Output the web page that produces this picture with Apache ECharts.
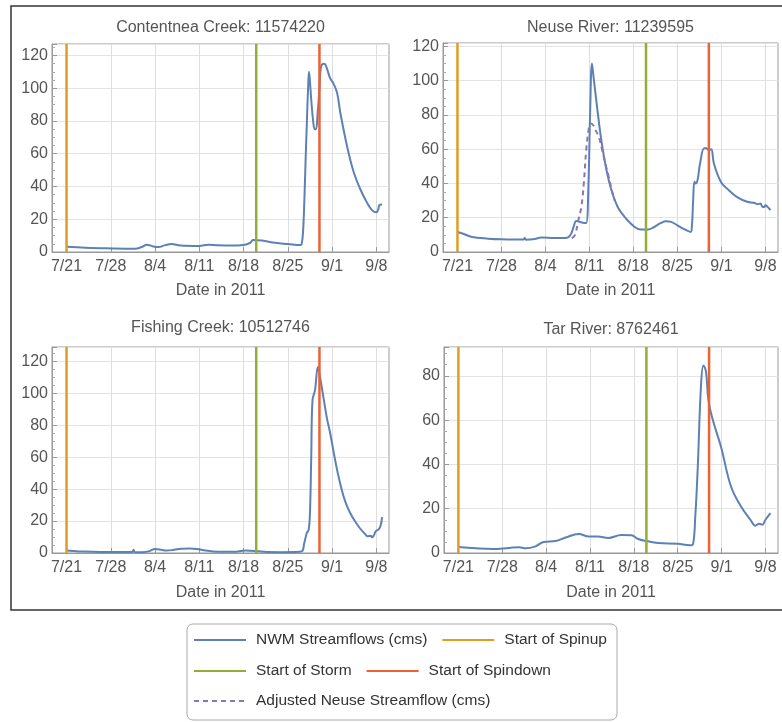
<!DOCTYPE html>
<html><head><meta charset="utf-8">
<script src="https://cdn.jsdelivr.net/npm/echarts@6/dist/echarts.min.js"></script>
<style>html,body{margin:0;padding:0;background:#fff}#c{width:782px;height:722px}</style>
</head><body><div id="c"></div><script>
// x values are days since 7/21/2011
const tickDays = [0, 7, 14, 21, 28, 35, 42, 49];
const eventDays = { spinup: 0, storm: 30, spindown: 40 };

const panelTitles = ['Contentnea Creek: 11574220', 'Neuse River: 11239595', 'Fishing Creek: 10512746', 'Tar River: 8762461'];

const contentneaDays = [0, 3, 7, 10.8, 12, 12.7, 13.6, 14.5, 15.6, 16.6, 18, 21, 22.4, 24, 26, 28, 29, 29.5, 30.9, 33, 35, 37, 37.2, 37.4, 37.6, 37.8, 38.0, 38.2, 38.35, 38.5, 38.7, 39.0, 39.25, 39.45, 39.7, 40.0, 40.25, 40.7, 41.0, 41.7, 42.2, 42.8, 43.3, 44.4, 45.4, 46.5, 47.5, 48.3, 49.0, 49.3, 49.5, 49.9];
const contentnea = [3.2, 2.6, 2.2, 2.0, 3.2, 4.5, 3.5, 3.0, 4.2, 4.9, 4.0, 3.7, 4.5, 4.1, 3.9, 4.3, 5.5, 7.3, 7.0, 5.6, 4.9, 4.3, 5, 12, 30, 55, 78, 100, 110, 104, 93, 80, 75, 75, 84, 100, 113, 115, 114, 106, 103, 97, 85, 64, 49, 38, 30.3, 25.6, 24.2, 26, 28.7, 29];

const neuseDays = [0, 1, 2.3, 4.9, 7, 9, 10.5, 10.7, 10.9, 12, 13.4, 15.5, 17.1, 17.6, 18.1, 18.5, 18.9, 19.4, 20.2, 20.5, 20.86, 21.1, 21.4, 21.6, 22.2, 22.9, 23.7, 24.5, 25.5, 26.6, 28.2, 29.2, 30.3, 31.3, 32.3, 33.2, 34, 35, 36, 37.1, 37.3, 37.5, 37.7, 37.9, 38.2, 38.6, 39.25, 39.6, 39.8, 40.1, 40.4, 40.8, 41.9, 42.9, 44.5, 46.1, 47.2, 47.7, 48.2, 48.5, 48.8, 49, 49.3, 49.8];
const neuse = [11.7, 10.5, 8.8, 7.8, 7.4, 7.3, 7.3, 8.2, 7.2, 7.4, 8.4, 8.2, 8.2, 8.5, 10.7, 15, 18.1, 17.6, 17.0, 17, 42, 80, 110, 104, 85, 65, 48, 36, 26.3, 20.5, 14.6, 13.1, 13.1, 14.6, 16.8, 18, 17.6, 15.6, 13.5, 11.7, 15, 30, 41, 40, 42, 51.7, 60.5, 60.5, 60, 59.5, 60, 51.7, 41, 37, 32, 29.3, 28.7, 27.9, 28.3, 26.5, 26.3, 27.3, 26.5, 24.4];

const adjustedNeuseDays = [18.2, 18.7, 19.2, 19.7, 20.1, 20.5, 20.9, 21.2, 21.6, 22.0, 22.5, 23.0, 23.5, 24.0, 24.5, 25.0];
const adjustedNeuse = [8, 10, 18, 26, 40, 60, 72, 75, 74, 71, 67, 60, 52, 45, 37, 30];

const fishingDays = [0, 2, 5.3, 8, 10.4, 10.6, 10.8, 12, 13, 14, 15, 15.8, 17, 18.2, 19.5, 20.6, 22, 23.2, 25, 26.4, 28.3, 30, 31.7, 34, 36, 37.2, 37.6, 38.0, 38.3, 38.5, 38.7, 38.9, 39.3, 39.75, 40.1, 40.7, 41.2, 41.7, 42.3, 42.9, 43.5, 44.1, 44.8, 45.6, 46.4, 47.2, 47.6, 48.1, 48.3, 48.6, 48.9, 49.4, 49.7, 49.9];
const fishing = [1.5, 1.0, 0.6, 0.6, 0.6, 2, 0.6, 0.5, 1.0, 2.5, 2.0, 1.5, 2.0, 2.7, 2.8, 2.5, 1.5, 1.0, 0.8, 0.8, 1.5, 1.2, 0.6, 0.5, 0.6, 1.0, 6.2, 12.5, 14.6, 25, 60, 95.7, 102, 116.5, 110, 95.7, 84, 75, 62, 50, 40, 32, 25.5, 20, 15.5, 12, 10.5, 10.8, 9.8, 11, 13.5, 15, 17.5, 22.5];

const tarDays = [0, 2.8, 5.4, 8.1, 9.7, 10.7, 12.3, 13.6, 15.5, 17.1, 19.2, 20.8, 22.3, 23.9, 26, 27.6, 28.7, 30, 31.9, 35, 36.9, 37.4, 37.8, 38.2, 38.7, 39.1, 39.5, 39.9, 40.6, 41.9, 43.5, 45.1, 46.6, 47.4, 48, 48.5, 49, 49.8];
const tar = [2.7, 2.1, 1.8, 2.3, 2.6, 2.1, 3, 5, 5.4, 7, 8.6, 7.4, 7.5, 6.8, 8.1, 8, 6.3, 5.4, 4.5, 4.2, 3.5, 3.8, 16.5, 39, 75, 84.7, 82, 69, 60, 48, 30, 21, 15, 12.3, 13.2, 12.8, 15, 18];

const yMaxes = [127, 122, 129, 93];

const FONT = '"Liberation Sans", Arial, sans-serif';
const C = { blue: '#5E81B5', orange: '#E19C24', green: '#8FB032', red: '#EB6235', purple: '#8778B3' };
const zip = (xs, ys) => xs.map((x, i) => [x, ys[i]]);
const fmtDay = v => { const d = new Date(2011, 6, 21 + Math.round(v)); return (d.getMonth() + 1) + '/' + d.getDate(); };

const grids = [
  { left: 52, top: 44, width: 337, height: 208 },
  { left: 443, top: 43, width: 335, height: 209 },
  { left: 52, top: 347, width: 337, height: 206 },
  { left: 444, top: 347, width: 334, height: 206 }
];
const nameGaps = [31, 31, 32, 32];
const panelData = [zip(contentneaDays, contentnea), zip(neuseDays, neuse), zip(fishingDays, fishing), zip(tarDays, tar)];

const xAxes = grids.map((g, i) => ({
  type: 'value', gridIndex: i, min: -2.3, max: 51,
  axisLine: { show: true, onZero: false, lineStyle: { color: '#999' } },
  axisTick: { show: true, inside: true, length: 5, customValues: tickDays, lineStyle: { color: '#999' } },
  axisLabel: { customValues: tickDays, formatter: fmtDay, color: '#555', fontSize: 16, fontFamily: FONT, margin: 7 },
  splitLine: { show: true, lineStyle: { color: '#dedede' } },
  name: 'Date in 2011', nameLocation: 'middle', nameGap: nameGaps[i],
  nameTextStyle: { color: '#555', fontSize: 16, fontFamily: FONT }
}));
const yAxes = grids.map((g, i) => ({
  type: 'value', gridIndex: i, min: 0, max: yMaxes[i], interval: 20,
  axisLine: { show: true, onZero: false, lineStyle: { color: '#999' } },
  axisTick: { show: true, inside: true, length: 5, lineStyle: { color: '#999' } },
  minorTick: { show: true, splitNumber: 4, length: 3, lineStyle: { color: '#aaa' } },
  axisLabel: { showMaxLabel: false, color: '#555', fontSize: 16, fontFamily: FONT, margin: 4 },
  splitLine: { show: true, lineStyle: { color: '#e4e4e4' } }
}));

const series = [];
panelData.forEach((d, i) => {
  series.push({
    type: 'line', name: 'NWM Streamflows (cms)', xAxisIndex: i, yAxisIndex: i, data: d,
    symbol: 'none', smooth: 0.4, lineStyle: { color: C.blue, width: 2 }, itemStyle: { color: C.blue }, z: 2
  });
  if (i === 1) {
    series.push({
      type: 'line', name: 'Adjusted Neuse Streamflow (cms)', xAxisIndex: i, yAxisIndex: i, data: zip(adjustedNeuseDays, adjustedNeuse),
      symbol: 'none', smooth: 0.4, lineStyle: { color: C.purple, width: 2, type: [5, 4] }, itemStyle: { color: C.purple }, z: 3
    });
  }
  [['Start of Spinup', eventDays.spinup, C.orange], ['Start of Storm', eventDays.storm, C.green], ['Start of Spindown', eventDays.spindown, C.red]].forEach(([nm, day, col]) => {
    series.push({
      type: 'line', name: nm, xAxisIndex: i, yAxisIndex: i, data: [[day, 0], [day, yMaxes[i]]],
      symbol: 'none', lineStyle: { color: col, width: 2.5 }, itemStyle: { color: col }, z: 4
    });
  });
});

const legendBase = {
  orient: 'horizontal', padding: 0, itemWidth: 52, itemHeight: 14, itemGap: 14,
  itemStyle: { opacity: 0, borderWidth: 0 },
  textStyle: { fontSize: 15.5, color: '#333', fontFamily: FONT, padding: [0, 0, 0, 5] },
  selectedMode: false
};
const legends = [
  Object.assign({}, legendBase, { left: 193, top: 632, data: ['NWM Streamflows (cms)', 'Start of Spinup'] }),
  Object.assign({}, legendBase, { left: 193, top: 663, data: ['Start of Storm', 'Start of Spindown'] }),
  Object.assign({}, legendBase, { left: 193, top: 693, data: ['Adjusted Neuse Streamflow (cms)'] })
];

const titleCenters = [[220.5, 28], [610.5, 28], [220.5, 328], [611, 330]];
const graphics = [
  { type: 'rect', shape: { x: 11, y: 6, width: 780, height: 604 }, style: { fill: 'none', stroke: '#333', lineWidth: 1.5 }, silent: true },
  { type: 'rect', shape: { x: 187, y: 624, width: 430, height: 96, r: 6 }, style: { fill: 'none', stroke: '#aaa', lineWidth: 1 }, silent: true }
].concat(panelTitles.map((t, i) => ({
  type: 'text', x: titleCenters[i][0], y: titleCenters[i][1],
  style: { text: t, fill: '#555', font: '16px ' + FONT, textAlign: 'center', textVerticalAlign: 'middle' }
})));

const chart = echarts.init(document.getElementById('c'), null, { renderer: 'canvas' });
chart.setOption({
  animation: false,
  backgroundColor: '#fff',
  grid: grids.map(g => Object.assign({ show: true, borderColor: '#999', borderWidth: 1, backgroundColor: 'transparent' }, g)),
  xAxis: xAxes,
  yAxis: yAxes,
  legend: legends,
  series: series,
  graphic: graphics
});
</script></body></html>
